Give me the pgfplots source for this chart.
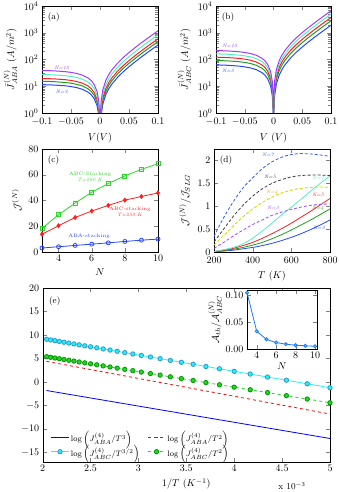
\documentclass[border=0pt]{standalone}
\usepackage{pgfplots}
\usepackage{pgfplotstable}
\pgfplotsset{compat=1.18}

\definecolor{cblue}{RGB}{40,70,255}
\definecolor{cgreen}{RGB}{30,160,30}
\definecolor{cred}{RGB}{255,30,30}
\definecolor{caqua}{RGB}{80,240,190}
\definecolor{cpurple}{RGB}{160,60,255}
\definecolor{dblue}{RGB}{50,90,255}
\definecolor{dgray}{RGB}{60,60,60}
\definecolor{dyellow}{RGB}{205,215,0}
\definecolor{dpurple}{RGB}{170,70,255}
\definecolor{lgreen}{RGB}{40,215,40}
\definecolor{ecyan}{RGB}{40,240,250}
\definecolor{egreen}{RGB}{40,210,40}
\definecolor{iblue}{RGB}{30,120,255}

% J_ABA^(N): columns are N=3,4,5,7,10
\pgfplotstableread{
V n3 n4 n5 n7 n10
-0.1 11.5 15.4 19.5 27.5 39.0
-0.08 11.1 14.9 18.9 26.6 37.7
-0.06 10.4 13.8 17.6 24.7 35.1
-0.05 9.73 13.0 16.5 23.2 33.0
-0.04 8.87 11.8 15.0 21.2 30.0
-0.03 7.63 10.2 12.9 18.2 25.8
-0.02 5.89 7.87 10.0 14.1 19.9
-0.015 4.77 6.38 8.10 11.4 16.2
-0.01 3.44 4.60 5.84 8.21 11.6
-0.005 1.87 2.50 3.17 4.46 6.33
-0.002 0.785 1.05 1.33 1.87 2.66
-0.0005 0.202 0.270 0.343 0.483 0.685
-0.0001 0.0405 0.054 0.069 0.097 0.137
0.0001 0.0405 0.054 0.069 0.097 0.137
0.0005 0.202 0.270 0.343 0.483 0.685
0.002 0.845 1.13 1.43 2.02 2.86
0.005 2.21 2.96 3.76 5.28 7.50
0.01 4.84 6.47 8.22 11.6 16.4
0.015 7.96 10.6 13.5 19.0 27.0
0.02 11.65 15.6 19.8 27.8 39.5
0.03 21.2 28.4 36.0 50.7 71.9
0.04 34.7 46.4 58.9 82.8 118
0.05 53.6 71.7 91.1 128 182
0.06 80.3 107 136 192 272
0.07 117.8 157 200 281 399
0.08 170.6 228 290 407 578
0.09 244.9 327 416 584 829
0.1 349.4 467 593 834 1183
}\tabA

% J_ABC^(N)
\pgfplotstableread{
V n3 n4 n5 n7 n10
-0.1 62.9 91.9 122 162 217
-0.08 60.8 88.8 118 157 209
-0.06 56.6 82.7 110 146 195
-0.05 53.2 77.7 103 137 183
-0.04 48.4 70.8 93.9 125 167
-0.03 41.7 60.9 80.8 108 144
-0.02 32.2 47.0 62.4 83.2 111
-0.015 26.1 38.1 50.5 67.4 89.8
-0.01 18.8 27.5 36.4 48.6 64.7
-0.005 10.2 14.9 19.8 26.4 35.2
-0.002 4.29 6.27 8.32 11.1 14.8
-0.0005 1.11 1.62 2.14 2.86 3.81
-0.0001 0.221 0.323 0.428 0.571 0.762
0.0001 0.221 0.323 0.428 0.571 0.762
0.0005 1.11 1.62 2.14 2.86 3.81
0.002 4.62 6.75 8.95 11.9 15.9
0.005 12.1 17.7 23.4 31.2 41.7
0.01 26.5 38.7 51.3 68.4 91.2
0.015 43.5 63.6 84.3 112 150
0.02 63.6 93.0 123 164 219
0.03 116 169 225 300 400
0.04 190 277 367 490 653
0.05 293 428 568 757 1010
0.06 439 641 851 1134 1512
0.07 644 941 1247 1663 2218
0.08 932 1362 1807 2409 3212
0.09 1338 1955 2593 3457 4610
0.1 1908 2789 3699 4932 6577
}\tabB

% J^(N)/J_SLG versus T
\pgfplotstableread{
T s3 s4 s5 s7 d3 d4 d5 d7
200 0.005 0.01 0.01 0.01 0.08 0.15 0.22 0.34
250 0.02 0.03 0.04 0.05 0.21 0.36 0.50 0.75
300 0.04 0.06 0.08 0.10 0.35 0.57 0.78 1.10
350 0.07 0.10 0.14 0.18 0.48 0.77 1.02 1.40
400 0.10 0.15 0.21 0.30 0.60 0.94 1.22 1.62
450 0.14 0.21 0.30 0.46 0.70 1.08 1.38 1.82
500 0.19 0.29 0.40 0.63 0.80 1.20 1.50 1.97
550 0.25 0.38 0.51 0.81 0.87 1.29 1.58 2.07
600 0.32 0.48 0.63 0.98 0.93 1.35 1.64 2.13
650 0.40 0.59 0.76 1.15 0.98 1.39 1.67 2.15
700 0.49 0.70 0.89 1.33 1.02 1.41 1.68 2.14
750 0.59 0.82 1.03 1.50 1.04 1.42 1.68 2.12
800 0.70 0.94 1.17 1.66 1.05 1.41 1.67 2.09
}\tabD

% log(J/T^a) versus 1/T (x in 10^-3 K^-1), T = 490 ... 200 K
\pgfplotstableread{
x cyan green
2.041 9.10 5.40
2.083 8.95 5.26
2.128 8.80 5.11
2.174 8.64 4.96
2.222 8.47 4.80
2.273 8.29 4.63
2.326 8.11 4.46
2.381 7.92 4.27
2.439 7.71 4.08
2.500 7.50 3.88
2.564 7.28 3.67
2.632 7.04 3.44
2.703 6.80 3.21
2.778 6.54 2.96
2.857 6.26 2.70
2.941 5.97 2.42
3.030 5.66 2.12
3.125 5.33 1.81
3.226 4.98 1.48
3.333 4.60 1.12
3.448 4.20 0.74
3.571 3.78 0.33
3.704 3.31 -0.11
3.846 2.82 -0.58
4.000 2.28 -1.09
4.167 1.70 -1.64
4.348 1.07 -2.24
4.545 0.39 -2.89
4.762 -0.37 -3.61
5.000 -1.20 -4.40
}\tabE

\pgfplotsset{
  every axis/.append style={scale only axis, anchor=south west},
}
\tikzset{plab/.style={font=\tiny\itshape}}

\begin{document}
\begin{tikzpicture}
\useasboundingbox (0,0) rectangle (338pt,492pt);

% (a)
\begin{axis}[at={(42pt,379pt)}, width=116pt, height=107pt,
  ymode=log, xmin=-0.1, xmax=0.1, ymin=1, ymax=1e4,
  xtick={-0.1,-0.05,0,0.05,0.1}, ytick={1,10,100,1000,10000},
  scaled x ticks=false, xticklabel style={/pgf/number format/fixed, yshift=-2pt},
  xlabel={$V(V)$}, ylabel={$\bar{J}^{(N)}_{ABA}\ (A/m^2)$},
  every axis plot/.append style={line width=1pt}]
  \addplot[cblue] table[x=V,y=n3]{\tabA};
  \addplot[cgreen] table[x=V,y=n4]{\tabA};
  \addplot[cred] table[x=V,y=n5]{\tabA};
  \addplot[caqua] table[x=V,y=n7]{\tabA};
  \addplot[cpurple] table[x=V,y=n10]{\tabA};
  \node[anchor=north west] at (rel axis cs:0.02,0.97) {\small (a)};
  \node[plab,text=cpurple] at (axis cs:-0.066,48) {N=10};
  \node[plab,text=cblue] at (axis cs:-0.066,6.2) {N=3};
\end{axis}

% (b)
\begin{axis}[at={(216pt,379pt)}, width=115pt, height=107pt,
  ymode=log, xmin=-0.1, xmax=0.1, ymin=1, ymax=1e4,
  xtick={-0.1,-0.05,0,0.05,0.1}, ytick={1,10,100,1000,10000},
  scaled x ticks=false, xticklabel style={/pgf/number format/fixed, yshift=-2pt},
  xlabel={$V\ (V)$}, ylabel={$\bar{J}^{(N)}_{ABC}\ (A/m^2)$},
  every axis plot/.append style={line width=1pt}]
  \addplot[cblue] table[x=V,y=n3]{\tabB};
  \addplot[cgreen] table[x=V,y=n4]{\tabB};
  \addplot[cred] table[x=V,y=n5]{\tabB};
  \addplot[caqua] table[x=V,y=n7]{\tabB};
  \addplot[cpurple] table[x=V,y=n10]{\tabB};
  \node[anchor=north west] at (rel axis cs:0.02,0.97) {\small (b)};
  \node[plab,text=cpurple] at (axis cs:-0.076,324) {N=10};
  \node[plab,text=cblue] at (axis cs:-0.079,37) {N=3};
\end{axis}

% (c)
\begin{axis}[at={(42pt,240pt)}, width=116pt, height=103pt,
  xmin=3, xmax=10, ymin=0, ymax=80,
  xtick={4,6,8,10}, ytick={0,20,40,60,80},
  xlabel={$N$}, ylabel={$\mathcal{J}^{(N)}$},
  every axis plot/.append style={line width=0.8pt, mark size=2pt}]
  \addplot[lgreen, mark=square] coordinates {
    (3,18.3) (4,29.0) (5,38.0) (6,46.4) (7,53.2) (8,59.1) (9,64.2) (10,68.6)};
  \addplot[cred, mark=diamond*] coordinates {
    (3,13.8) (4,20.4) (5,26.8) (6,31.8) (7,36.2) (8,40.3) (9,43.1) (10,45.9)};
  \addplot[cblue, mark=o] coordinates {
    (3,3.1) (4,4.1) (5,5.1) (6,6.1) (7,7.1) (8,8.2) (9,9.2) (10,10.0)};
  \node[anchor=north west] at (rel axis cs:0.02,0.97) {\small (c)};
  \node[font=\tiny, text=lgreen, align=center] at (axis cs:5.9,58.6) {ABC-Stacking\\ \textit{T=280 K}};
  \node[font=\tiny, text=cred, align=center] at (axis cs:8.3,31.5) {ABC-stacking\\ \textit{T=250 K}};
  \node[font=\tiny, text=cblue] at (axis cs:5.84,12.4) {ABA-stacking};
\end{axis}

% (d)
\begin{axis}[at={(214pt,240pt)}, width=116pt, height=103pt,
  xmin=200, xmax=800, ymin=0, ymax=2.25,
  xtick={200,400,600,800}, ytick={0,0.5,1,1.5,2},
  xticklabel style={yshift=-2pt},
  xlabel={$T\ (K)$}, ylabel={$\mathcal{J}^{(N)}/\mathcal{J}_{SLG}$},
  every axis plot/.append style={line width=0.8pt, smooth}]
  \addplot[cblue] table[x=T,y=s3]{\tabD};
  \addplot[cgreen] table[x=T,y=s4]{\tabD};
  \addplot[cred] table[x=T,y=s5]{\tabD};
  \addplot[caqua] table[x=T,y=s7]{\tabD};
  \addplot[dpurple, dash pattern=on 3pt off 2pt] table[x=T,y=d3]{\tabD};
  \addplot[dyellow, dash pattern=on 3pt off 2pt] table[x=T,y=d4]{\tabD};
  \addplot[dgray, dash pattern=on 3pt off 2pt] table[x=T,y=d5]{\tabD};
  \addplot[dblue, dash pattern=on 3pt off 2pt] table[x=T,y=d7]{\tabD};
  \node[anchor=north west] at (rel axis cs:0.02,0.97) {\small (d)};
  \node[plab,text=dblue] at (axis cs:479,2.12) {N=7};
  \node[plab,text=dgray] at (axis cs:490,1.64) {N=5};
  \node[plab,text=orange!80!yellow] at (axis cs:500,1.31) {N=4};
  \node[plab,text=dpurple] at (axis cs:505,0.96) {N=3};
  \node[plab,text=caqua] at (axis cs:738,1.62) {N=7};
  \node[plab,text=cred] at (axis cs:738,1.24) {N=5};
  \node[plab,text=cgreen] at (axis cs:738,0.96) {N=4};
  \node[plab,text=cblue] at (axis cs:743,0.52) {N=3};
\end{axis}

% (e)
\begin{axis}[at={(42.7pt,30pt)}, width=287.3pt, height=174pt,
  xmin=2, xmax=5, ymin=-17, ymax=20,
  xtick={2,2.5,3,3.5,4,4.5,5}, ytick={-15,-10,-5,0,5,10,15,20},
  xlabel={$1/T\ (K^{-1})$},
  legend columns=2,
  legend style={at={(0.025,0.005)}, anchor=south west, draw=none, fill=none,
    font=\footnotesize, row sep=-2pt, inner sep=1pt,
    /tikz/every even column/.append style={column sep=6pt}},
  legend cell align=left]
  \addplot[blue, line width=0.8pt] coordinates {(2.04,-1.8) (5,-12.0)};
  \addlegendentry{$\log\left(J^{(4)}_{ABA}/T^3\right)$}
  \addplot[red, dashed, line width=0.8pt] coordinates {(2.04,4.4) (5,-6.8)};
  \addlegendentry{$\log\left(J^{(4)}_{ABA}/T^2\right)$}
  \addplot[ecyan, line width=0.8pt, mark=*, mark size=2.2pt,
    mark options={fill=ecyan, draw=cyan!80!black}] table[x=x,y=cyan]{\tabE};
  \addlegendentry{$\log\left(J^{(4)}_{ABC}/T^{3/2}\right)$}
  \addplot[egreen, dashed, line width=0.8pt, mark=*, mark size=2.2pt,
    mark options={solid, fill=egreen, draw=green!60!black}] table[x=x,y=green]{\tabE};
  \addlegendentry{$\log\left(J^{(4)}_{ABC}/T^2\right)$}
  \node[anchor=north west] at (rel axis cs:0.01,0.97) {\small (e)};
\end{axis}
\node at (292pt,6pt) {\small x $10^{-3}$};

% inset
\begin{axis}[at={(247pt,143pt)}, width=70pt, height=59pt,
  xmin=3, xmax=10.2, ymin=0, ymax=0.11,
  xtick={4,6,8,10}, ytick={0,0.05,0.1},
  scaled y ticks=false,
  yticklabel style={/pgf/number format/.cd, fixed, fixed zerofill, precision=2},
  axis background/.style={fill=white},
  xlabel={$N$}, ylabel={$\mathcal{A}_{th}/\mathcal{A}^{(N)}_{ABC}$},
  xlabel style={yshift=3pt}, ylabel style={yshift=-3pt}]
  \addplot[iblue, line width=0.8pt, mark=*, mark size=1.6pt,
    mark options={fill=cyan!60!white, draw=iblue}] coordinates {
    (3,0.105) (4,0.033) (5,0.018) (6,0.012) (7,0.009) (8,0.007) (9,0.006) (10,0.005)};
\end{axis}
\end{tikzpicture}
\end{document}
